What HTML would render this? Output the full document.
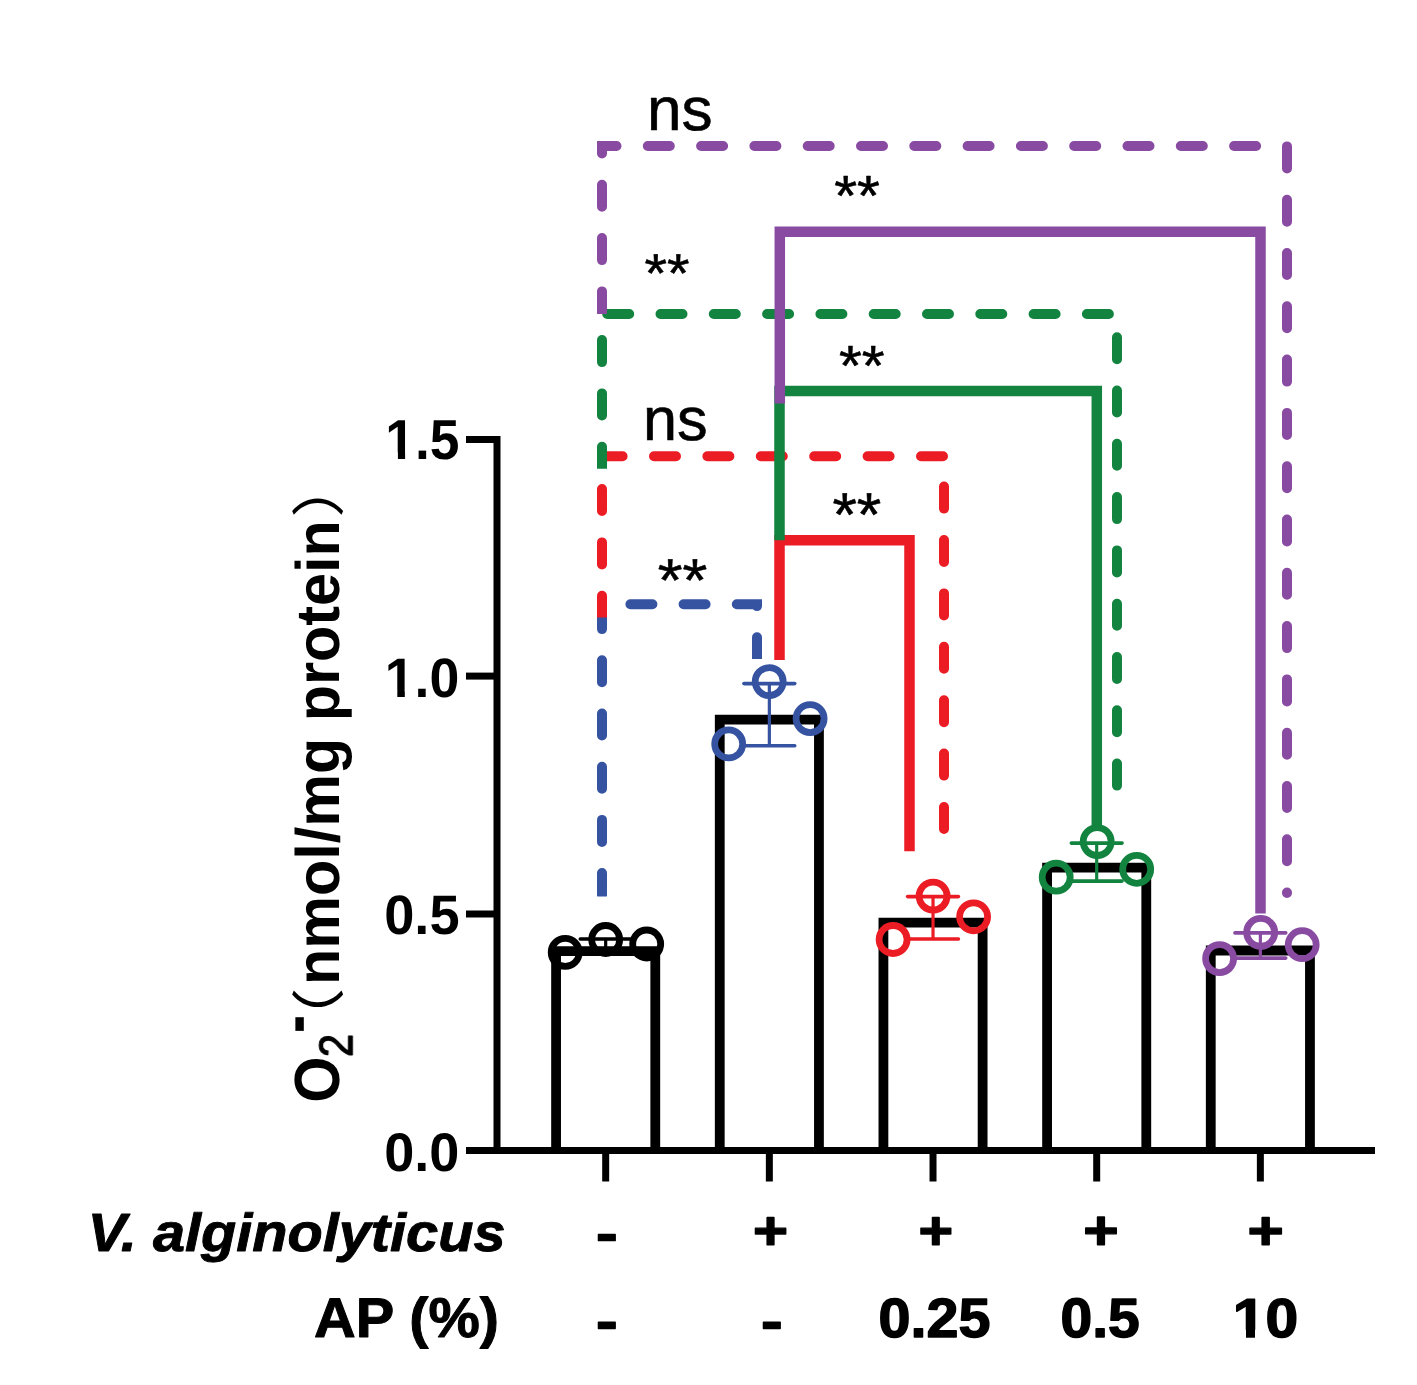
<!DOCTYPE html>
<html><head><meta charset="utf-8"><title>O2- chart</title>
<style>
html,body{margin:0;padding:0;background:#fff;}
body{width:1417px;height:1385px;overflow:hidden;}
svg{display:block;}
text{text-rendering:geometricPrecision;}
</style></head>
<body>
<svg width="1417" height="1385" viewBox="0 0 1417 1385">
<defs>
<clipPath id="cb"><polygon points="572,574.3 787,574.3 787,659.1 680,659.1 680,896.5 572,896.5"/></clipPath>
<clipPath id="cr"><polygon points="572,426.2 974,426.2 974,900 700,900 700,617.4 572,617.4"/></clipPath>
<clipPath id="cg"><polygon points="572,284 1147,284 1147,900 700,900 700,468.8 572,468.8"/></clipPath>
<clipPath id="cp"><polygon points="572,116 1317,116 1317,920 700,920 700,314 572,314"/></clipPath>
</defs>
<path d="M466,439.5 H497 V1150.5" stroke="#000" stroke-width="7" fill="none" stroke-linejoin="miter"/>
<line x1="466" y1="676.1" x2="497" y2="676.1" stroke="#000" stroke-width="7" fill="none"/>
<line x1="466" y1="914.0" x2="497" y2="914.0" stroke="#000" stroke-width="7" fill="none"/>
<line x1="466" y1="1150.5" x2="497" y2="1150.5" stroke="#000" stroke-width="7" fill="none"/>
<line x1="466" y1="1150.5" x2="1375" y2="1150.5" stroke="#000" stroke-width="7" fill="none"/>
<line x1="605.68" y1="1150.5" x2="605.68" y2="1181.5" stroke="#000" stroke-width="7" fill="none"/>
<line x1="769.35" y1="1150.5" x2="769.35" y2="1181.5" stroke="#000" stroke-width="7" fill="none"/>
<line x1="933.02" y1="1150.5" x2="933.02" y2="1181.5" stroke="#000" stroke-width="7" fill="none"/>
<line x1="1096.69" y1="1150.5" x2="1096.69" y2="1181.5" stroke="#000" stroke-width="7" fill="none"/>
<line x1="1260.36" y1="1150.5" x2="1260.36" y2="1181.5" stroke="#000" stroke-width="7" fill="none"/>
<path d="M556.08,1150.5 V951.20 H655.28 V1150.5" fill="none" stroke="#000" stroke-width="9.8" stroke-linejoin="miter"/>
<path d="M719.75,1150.5 V719.60 H818.95 V1150.5" fill="none" stroke="#000" stroke-width="9.8" stroke-linejoin="miter"/>
<path d="M883.42,1150.5 V922.70 H982.62 V1150.5" fill="none" stroke="#000" stroke-width="9.8" stroke-linejoin="miter"/>
<path d="M1047.09,1150.5 V867.70 H1146.29 V1150.5" fill="none" stroke="#000" stroke-width="9.8" stroke-linejoin="miter"/>
<path d="M1210.76,1150.5 V950.50 H1309.96 V1150.5" fill="none" stroke="#000" stroke-width="9.8" stroke-linejoin="miter"/>
<g stroke="#000000" fill="none" stroke-linecap="round">
<line x1="605.68" y1="939.0" x2="605.68" y2="953.6" stroke-width="3.2" stroke-linecap="butt"/>
<line x1="580.28" y1="939.0" x2="631.08" y2="939.0" stroke-width="3.6"/>
<line x1="580.28" y1="953.6" x2="631.08" y2="953.6" stroke-width="3.6"/>
</g>
<g stroke="#3553a1" fill="none" stroke-linecap="round">
<line x1="769.35" y1="683.6" x2="769.35" y2="745.8" stroke-width="3.2" stroke-linecap="butt"/>
<line x1="743.95" y1="683.6" x2="794.75" y2="683.6" stroke-width="3.6"/>
<line x1="743.95" y1="745.8" x2="794.75" y2="745.8" stroke-width="3.6"/>
</g>
<g stroke="#ec1c24" fill="none" stroke-linecap="round">
<line x1="933.02" y1="896.6" x2="933.02" y2="939.0" stroke-width="3.2" stroke-linecap="butt"/>
<line x1="907.62" y1="896.6" x2="958.42" y2="896.6" stroke-width="3.6"/>
<line x1="907.62" y1="939.0" x2="958.42" y2="939.0" stroke-width="3.6"/>
</g>
<g stroke="#12843f" fill="none" stroke-linecap="round">
<line x1="1096.69" y1="843.1" x2="1096.69" y2="881.1" stroke-width="3.2" stroke-linecap="butt"/>
<line x1="1071.29" y1="843.1" x2="1122.09" y2="843.1" stroke-width="3.6"/>
<line x1="1071.29" y1="881.1" x2="1122.09" y2="881.1" stroke-width="3.6"/>
</g>
<g stroke="#894ba2" fill="none" stroke-linecap="round">
<line x1="1260.36" y1="932.9" x2="1260.36" y2="958.1" stroke-width="3.2" stroke-linecap="butt"/>
<line x1="1234.96" y1="932.9" x2="1285.76" y2="932.9" stroke-width="3.6"/>
<line x1="1234.96" y1="958.1" x2="1285.76" y2="958.1" stroke-width="3.6"/>
</g>
<circle cx="565.2" cy="952.4" r="14" fill="none" stroke="#000000" stroke-width="6.8"/>
<circle cx="605.7" cy="939.5" r="14" fill="none" stroke="#000000" stroke-width="6.8"/>
<circle cx="646.7" cy="944.0" r="14" fill="none" stroke="#000000" stroke-width="6.8"/>
<circle cx="769.2" cy="681.6" r="14" fill="none" stroke="#3553a1" stroke-width="6.8"/>
<circle cx="810.1" cy="718.6" r="14" fill="none" stroke="#3553a1" stroke-width="6.8"/>
<circle cx="728.7" cy="743.9" r="14" fill="none" stroke="#3553a1" stroke-width="6.8"/>
<circle cx="933.1" cy="896.1" r="14" fill="none" stroke="#ec1c24" stroke-width="6.8"/>
<circle cx="973.6" cy="916.8" r="14" fill="none" stroke="#ec1c24" stroke-width="6.8"/>
<circle cx="893.1" cy="939.5" r="14" fill="none" stroke="#ec1c24" stroke-width="6.8"/>
<circle cx="1097.2" cy="841.6" r="14" fill="none" stroke="#12843f" stroke-width="6.8"/>
<circle cx="1136.7" cy="869.3" r="14" fill="none" stroke="#12843f" stroke-width="6.8"/>
<circle cx="1056.2" cy="877.2" r="14" fill="none" stroke="#12843f" stroke-width="6.8"/>
<circle cx="1260.7" cy="932.4" r="14" fill="none" stroke="#894ba2" stroke-width="6.8"/>
<circle cx="1302.2" cy="944.7" r="14" fill="none" stroke="#894ba2" stroke-width="6.8"/>
<circle cx="1219.6" cy="958.6" r="14" fill="none" stroke="#894ba2" stroke-width="6.8"/>
<path d="M602,896.5 V604.3 H757 V659.1" fill="none" stroke="#3553a1" stroke-width="10" stroke-linecap="round" stroke-linejoin="miter" stroke-dasharray="22 31.20" stroke-dashoffset="51.80" clip-path="url(#cb)"/>
<path d="M602,617.4 V456.2 H944 V845" fill="none" stroke="#ec1c24" stroke-width="10" stroke-linecap="round" stroke-linejoin="miter" stroke-dasharray="22 31.40" stroke-dashoffset="0.40" clip-path="url(#cr)"/>
<path d="M602,468.8 V314 H1117 V805" fill="none" stroke="#12843f" stroke-width="10" stroke-linecap="round" stroke-linejoin="miter" stroke-dasharray="22 31.30" stroke-dashoffset="53.20" clip-path="url(#cg)"/>
<path d="M602,314 V146 H1287 V893" fill="none" stroke="#894ba2" stroke-width="10" stroke-linecap="round" stroke-linejoin="miter" stroke-dasharray="22 31.30" stroke-dashoffset="52.70" clip-path="url(#cp)"/>
<path d="M779.5,659.9 V540.2 H909.5 V851.2" fill="none" stroke="#ec1c24" stroke-width="10.5" stroke-linecap="butt" stroke-linejoin="miter"/>
<path d="M779.5,540.2 V391 H1096.8 V825.8" fill="none" stroke="#12843f" stroke-width="10.5" stroke-linecap="butt" stroke-linejoin="miter"/>
<path d="M779.8,403.5 V231.7 H1260.5 V913.6" fill="none" stroke="#894ba2" stroke-width="10.5" stroke-linecap="butt" stroke-linejoin="miter"/>
<g transform="matrix(1.0188,0,0,0.9939,-16.24,1.68)"><text x="651" y="129" font-family="Liberation Sans, Arial, sans-serif" font-size="61" font-weight="normal" font-style="normal" text-anchor="start" fill="#000" stroke="#000" stroke-width="0.6" stroke-linejoin="round">ns</text></g>
<g transform="matrix(0.9775,0,0,0.9424,18.04,31.23)"><text x="835" y="195" font-family="Liberation Sans, Arial, sans-serif" font-size="60" font-weight="normal" font-style="normal" text-anchor="start" fill="#000" stroke="#000" stroke-width="0.6" stroke-linejoin="round">**</text></g>
<g transform="matrix(0.9639,0,0,0.9130,22.84,42.36)"><text x="645" y="273" font-family="Liberation Sans, Arial, sans-serif" font-size="60" font-weight="normal" font-style="normal" text-anchor="start" fill="#000" stroke="#000" stroke-width="0.6" stroke-linejoin="round">**</text></g>
<g transform="matrix(0.9775,0,0,0.9424,17.86,41.01)"><text x="840" y="365" font-family="Liberation Sans, Arial, sans-serif" font-size="60" font-weight="normal" font-style="normal" text-anchor="start" fill="#000" stroke="#000" stroke-width="0.6" stroke-linejoin="round">**</text></g>
<g transform="matrix(1.0034,0,0,0.9909,-6.29,4.20)"><text x="647" y="440" font-family="Liberation Sans, Arial, sans-serif" font-size="61" font-weight="normal" font-style="normal" text-anchor="start" fill="#000" stroke="#000" stroke-width="0.6" stroke-linejoin="round">ns</text></g>
<g transform="matrix(0.9810,0,0,0.9730,15.26,36.12)"><text x="833" y="514" font-family="Liberation Sans, Arial, sans-serif" font-size="64" font-weight="normal" font-style="normal" text-anchor="start" fill="#000" stroke="#000" stroke-width="0.6" stroke-linejoin="round">**</text></g>
<g transform="matrix(0.9937,0,0,0.9461,2.86,53.14)"><text x="659" y="579" font-family="Liberation Sans, Arial, sans-serif" font-size="64" font-weight="normal" font-style="normal" text-anchor="start" fill="#000" stroke="#000" stroke-width="0.6" stroke-linejoin="round">**</text></g>
<clipPath id="cf_t15"><path d="M0,0 H1417 V1385 H0 Z M388,452.6 H397.9 V460.5 H388 Z M405.1,452.6 H414.5 V460.5 H405.1 Z" clip-rule="evenodd"/></clipPath>
<g clip-path="url(#cf_t15)"><g transform="matrix(0.9369,0,0,0.9883,30.43,5.72)"><text x="458" y="459" font-family="Liberation Sans, Arial, sans-serif" font-size="57" font-weight="bold" font-style="normal" text-anchor="end" fill="#000">1.5</text></g></g>
<clipPath id="cf_t10"><path d="M0,0 H1417 V1385 H0 Z M387,690.6 H397.3 V698 H387 Z M404.8,690.6 H414.2 V698 H404.8 Z" clip-rule="evenodd"/></clipPath>
<g clip-path="url(#cf_t10)"><g transform="matrix(0.9411,0,0,0.9767,28.33,17.04)"><text x="458" y="696" font-family="Liberation Sans, Arial, sans-serif" font-size="57" font-weight="bold" font-style="normal" text-anchor="end" fill="#000">1.0</text></g></g>
<g transform="matrix(0.9512,0,0,0.9764,23.91,22.71)"><text x="458" y="933" font-family="Liberation Sans, Arial, sans-serif" font-size="57" font-weight="bold" font-style="normal" text-anchor="end" fill="#000">0.5</text></g>
<g transform="matrix(0.9486,0,0,0.9538,24.89,54.87)"><text x="458" y="1170" font-family="Liberation Sans, Arial, sans-serif" font-size="57" font-weight="bold" font-style="normal" text-anchor="end" fill="#000">0.0</text></g>
<g transform="matrix(1.0120,0,0,0.9411,-3.56,71.64)"><text x="503" y="1253" font-family="Liberation Sans, Arial, sans-serif" font-size="57" font-weight="bold" font-style="italic" text-anchor="end" fill="#000" stroke="#000" stroke-width="1.0" stroke-linejoin="round">V. alginolyticus</text></g>
<g transform="matrix(1.0303,0,0,0.9985,-12.07,1.60)"><text x="496" y="1337.6" font-family="Liberation Sans, Arial, sans-serif" font-size="56" font-weight="bold" font-style="normal" text-anchor="end" fill="#000" stroke="#000" stroke-width="1.0" stroke-linejoin="round">AP (%)</text></g>
<g transform="matrix(1.0874,0,0,0.8625,-53.17,172.89)"><text x="607" y="1250" font-family="Liberation Sans, Arial, sans-serif" font-size="60" font-weight="bold" font-style="normal" text-anchor="middle" fill="#000" stroke="#000" stroke-width="1.5" stroke-linejoin="round">-</text></g>
<g transform="matrix(1.0724,0,0,0.9621,-55.11,50.43)"><text x="770" y="1246" font-family="Liberation Sans, Arial, sans-serif" font-size="56" font-weight="bold" font-style="normal" text-anchor="middle" fill="#000" stroke="#000" stroke-width="1.5" stroke-linejoin="round">+</text></g>
<g transform="matrix(1.0586,0,0,0.9621,-55.02,50.23)"><text x="936" y="1246" font-family="Liberation Sans, Arial, sans-serif" font-size="56" font-weight="bold" font-style="normal" text-anchor="middle" fill="#000" stroke="#000" stroke-width="1.5" stroke-linejoin="round">+</text></g>
<g transform="matrix(1.0828,0,0,0.9724,-91.32,37.38)"><text x="1101" y="1246" font-family="Liberation Sans, Arial, sans-serif" font-size="56" font-weight="bold" font-style="normal" text-anchor="middle" fill="#000" stroke="#000" stroke-width="1.5" stroke-linejoin="round">+</text></g>
<g transform="matrix(1.1103,0,0,0.9621,-140.00,50.23)"><text x="1266" y="1246" font-family="Liberation Sans, Arial, sans-serif" font-size="56" font-weight="bold" font-style="normal" text-anchor="middle" fill="#000" stroke="#000" stroke-width="1.5" stroke-linejoin="round">+</text></g>
<g transform="matrix(1.0874,0,0,0.8750,-53.17,168.21)"><text x="607" y="1338" font-family="Liberation Sans, Arial, sans-serif" font-size="60" font-weight="bold" font-style="normal" text-anchor="middle" fill="#000" stroke="#000" stroke-width="1.5" stroke-linejoin="round">-</text></g>
<g transform="matrix(1.0874,0,0,0.8750,-67.69,168.21)"><text x="772" y="1338" font-family="Liberation Sans, Arial, sans-serif" font-size="60" font-weight="bold" font-style="normal" text-anchor="middle" fill="#000" stroke="#000" stroke-width="1.5" stroke-linejoin="round">-</text></g>
<g transform="matrix(0.9833,0,0,0.9465,15.21,70.84)"><text x="935" y="1338" font-family="Liberation Sans, Arial, sans-serif" font-size="58.5" font-weight="bold" font-style="normal" text-anchor="middle" fill="#000" stroke="#000" stroke-width="1.5" stroke-linejoin="round">0.25</text></g>
<g transform="matrix(0.9747,0,0,0.9471,27.91,70.05)"><text x="1100" y="1338" font-family="Liberation Sans, Arial, sans-serif" font-size="58.5" font-weight="bold" font-style="normal" text-anchor="middle" fill="#000" stroke="#000" stroke-width="1.5" stroke-linejoin="round">0.5</text></g>
<clipPath id="cf_r2e"><path d="M0,0 H1417 V1385 H0 Z M1234,1329.8 H1246.0 V1340 H1234 Z M1255.0,1329.8 H1266.5 V1340 H1255.0 Z" clip-rule="evenodd"/></clipPath>
<g clip-path="url(#cf_r2e)"><g transform="matrix(1.0050,0,0,0.9377,-6.78,82.56)"><text x="1266" y="1338" font-family="Liberation Sans, Arial, sans-serif" font-size="58.5" font-weight="bold" font-style="normal" text-anchor="middle" fill="#000" stroke="#000" stroke-width="1.5" stroke-linejoin="round">10</text></g></g>
<g transform="matrix(1.0658,0,0,0.9878,-22.81,16.08)"><g transform="translate(339.5,1100.2) rotate(-90)"><text x="0" y="0" font-family="Liberation Sans, Arial, sans-serif" font-size="60" font-weight="bold" font-style="normal" text-anchor="start" fill="#000">O</text></g></g>
<g transform="matrix(1.0497,0,0,0.9230,-17.29,83.27)"><g style="filter:blur(0px)" transform="translate(352,1055) rotate(-90)"><text x="0" y="0" font-family="Liberation Sans, Arial, sans-serif" font-size="45" font-weight="normal" font-style="normal" text-anchor="start" fill="#000" stroke="#000" stroke-width="1.2" stroke-linejoin="round">2</text></g></g>
<g transform="matrix(1.3654,0,0,1.0383,-118.79,-36.57)"><g transform="translate(320,1030) rotate(-90)"><text x="0" y="0" font-family="Liberation Sans, Arial, sans-serif" font-size="52" font-weight="bold" font-style="normal" text-anchor="start" fill="#000">-</text></g></g>
<g transform="matrix(0.8929,0,0,1.0555,35.11,-46.64)"><g transform="translate(339.5,1040) rotate(-90)"><text x="0" y="0" font-family="Liberation Sans, Noto Sans CJK SC, sans-serif" font-size="60" font-weight="normal" font-style="normal" text-anchor="start" fill="#000">（</text></g></g>
<g transform="matrix(1.0241,0,0,0.9888,-8.86,14.90)"><g transform="translate(339.5,981) rotate(-90)"><text x="0" y="0" font-family="Liberation Sans, Arial, sans-serif" font-size="60" font-weight="bold" font-style="normal" text-anchor="start" fill="#000">nmol/mg protein</text></g></g>
<g transform="matrix(0.8929,0,0,1.0561,35.11,-52.55)"><g transform="translate(339.5,540) rotate(-90)"><text x="0" y="0" font-family="Liberation Sans, Noto Sans CJK SC, sans-serif" font-size="60" font-weight="normal" font-style="normal" text-anchor="start" fill="#000">）</text></g></g>
</svg>
</body></html>
